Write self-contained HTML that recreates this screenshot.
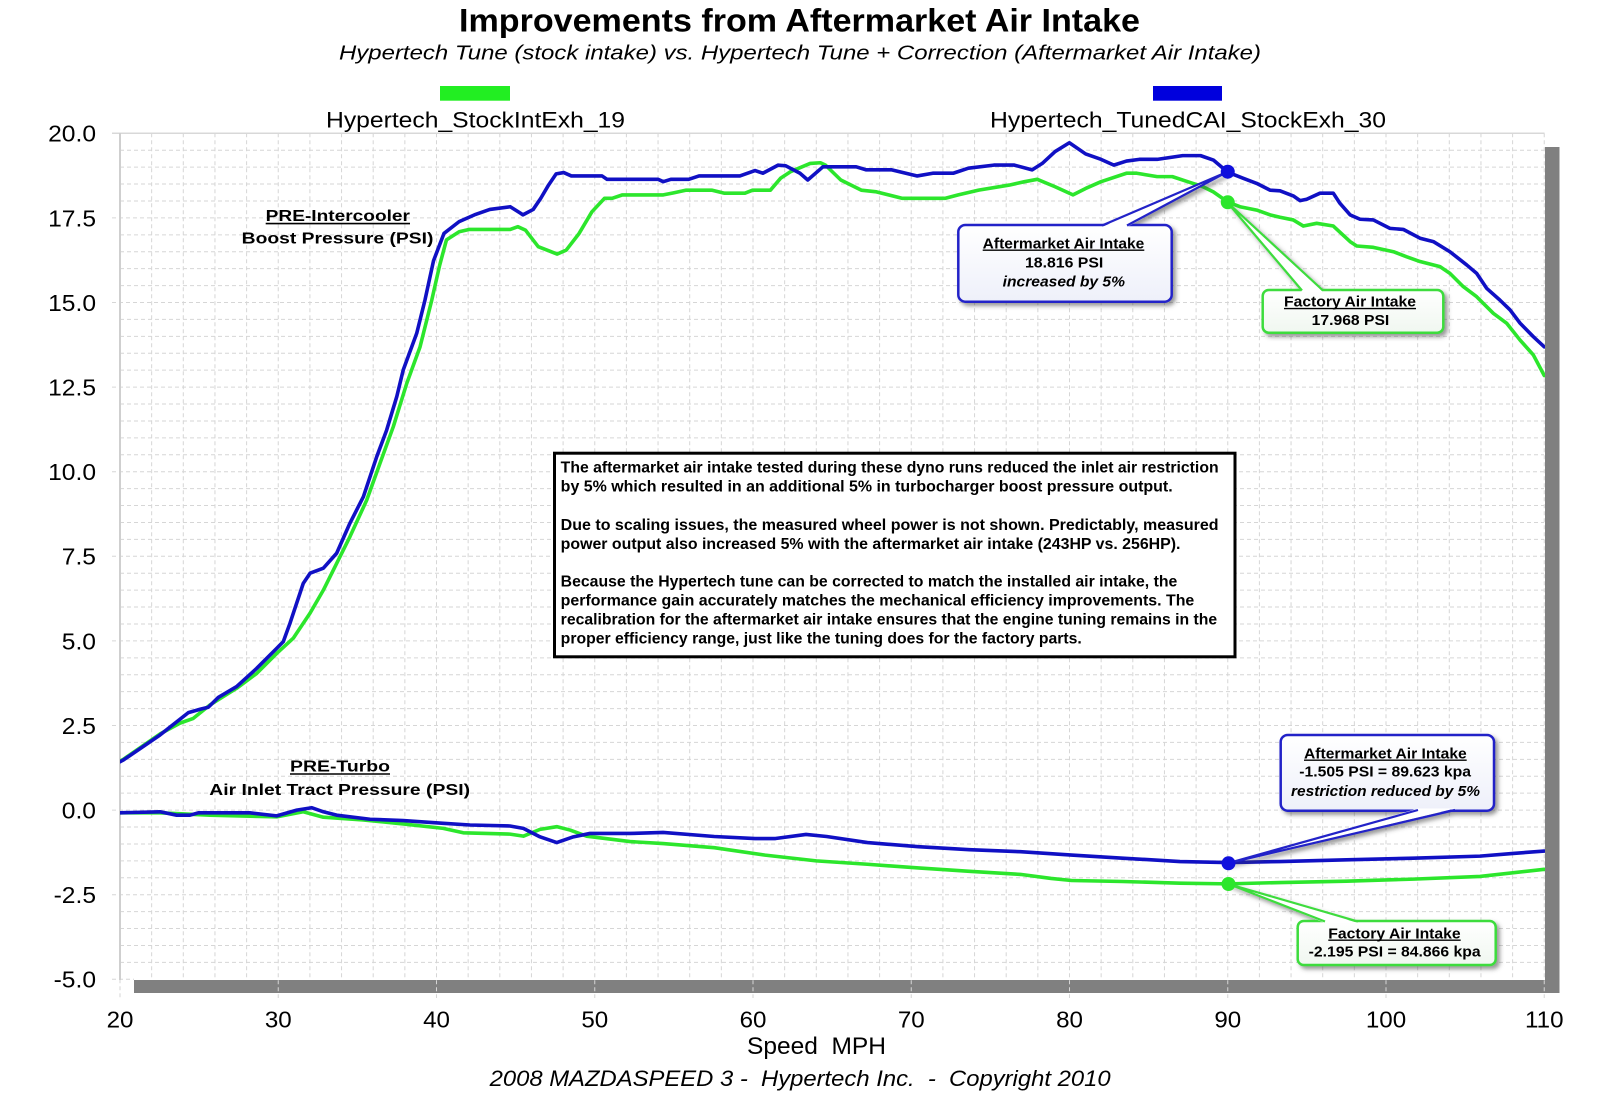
<!DOCTYPE html>
<html>
<head>
<meta charset="utf-8">
<style>
html,body{margin:0;padding:0;background:#fff;}
svg{display:block;}
text{font-family:"Liberation Sans",Arial,sans-serif;}
.pre{white-space:pre;}
</style>
</head>
<body>
<svg width="1600" height="1120" viewBox="0 0 1600 1120" xmlns="http://www.w3.org/2000/svg" xml:space="preserve">
<defs>
  <filter id="sh" x="-10%" y="-10%" width="130%" height="140%">
    <feDropShadow dx="3" dy="3" stdDeviation="2" flood-color="#444" flood-opacity="0.55"/>
  </filter>
  <linearGradient id="gb" x1="0" y1="0" x2="0" y2="1">
    <stop offset="0" stop-color="#ffffff"/>
    <stop offset="1" stop-color="#eef0fa"/>
  </linearGradient>
  <linearGradient id="gg" x1="0" y1="0" x2="0" y2="1">
    <stop offset="0" stop-color="#ffffff"/>
    <stop offset="1" stop-color="#f0f7f0"/>
  </linearGradient>
  <clipPath id="plotclip"><rect x="120" y="133" width="1425" height="847"/></clipPath>
</defs>

<rect x="0" y="0" width="1600" height="1120" fill="#fff"/>

<!-- Titles -->
<text x="459" y="31.7" font-size="32.5" font-weight="bold" textLength="681" lengthAdjust="spacingAndGlyphs">Improvements from Aftermarket Air Intake</text>
<text x="339" y="59.3" font-size="20" font-style="italic" textLength="922" lengthAdjust="spacingAndGlyphs">Hypertech Tune (stock intake) vs. Hypertech Tune + Correction (Aftermarket Air Intake)</text>

<!-- Legend -->
<rect x="440" y="86" width="70" height="14.7" fill="#22ee22"/>
<rect x="1153" y="86" width="69" height="14.7" fill="#0000dd"/>
<text x="326" y="127.7" font-size="22" textLength="299" lengthAdjust="spacingAndGlyphs">Hypertech_StockIntExh_19</text>
<text x="990" y="127.7" font-size="22" textLength="396" lengthAdjust="spacingAndGlyphs">Hypertech_TunedCAI_StockExh_30</text>

<!-- Shadows -->
<rect x="1545" y="147" width="14.5" height="846" fill="#808080"/>
<rect x="134" y="980" width="1425.5" height="13" fill="#808080"/>

<!-- Grid minor/major dashed -->
<g stroke="#d6d6d6" stroke-width="1" stroke-dasharray="4 3" fill="none">
<path d="M151.65 133.3V979.3M183.3 133.3V979.3M214.95 133.3V979.3M246.6 133.3V979.3M309.9 133.3V979.3M341.55 133.3V979.3M373.2 133.3V979.3M404.85 133.3V979.3M468.15 133.3V979.3M499.8 133.3V979.3M531.45 133.3V979.3M563.1 133.3V979.3M626.4 133.3V979.3M658.05 133.3V979.3M689.7 133.3V979.3M721.35 133.3V979.3M784.65 133.3V979.3M816.3 133.3V979.3M847.95 133.3V979.3M879.6 133.3V979.3M942.9 133.3V979.3M974.55 133.3V979.3M1006.2 133.3V979.3M1037.85 133.3V979.3M1101.15 133.3V979.3M1132.8 133.3V979.3M1164.45 133.3V979.3M1196.1 133.3V979.3M1259.4 133.3V979.3M1291.05 133.3V979.3M1322.7 133.3V979.3M1354.35 133.3V979.3M1417.65 133.3V979.3M1449.3 133.3V979.3M1480.95 133.3V979.3M1512.6 133.3V979.3"/>
<path d="M278.25 133.3V998M436.5 133.3V998M594.75 133.3V998M753 133.3V998M911.25 133.3V998M1069.5 133.3V998M1227.75 133.3V998M1386 133.3V998M1544.25 133.3V998M120 979.3V998"/>
<path d="M120 150.22H1544M120 167.14H1544M120 184.06H1544M120 200.98H1544M120 234.82H1544M120 251.74H1544M120 268.66H1544M120 285.58H1544M120 319.42H1544M120 336.34H1544M120 353.26H1544M120 370.18H1544M120 404.02H1544M120 420.94H1544M120 437.86H1544M120 454.78H1544M120 488.62H1544M120 505.54H1544M120 522.46H1544M120 539.38H1544M120 573.22H1544M120 590.14H1544M120 607.06H1544M120 623.98H1544M120 657.82H1544M120 674.74H1544M120 691.66H1544M120 708.58H1544M120 742.42H1544M120 759.34H1544M120 776.26H1544M120 793.18H1544M120 827.02H1544M120 843.94H1544M120 860.86H1544M120 877.78H1544M120 911.62H1544M120 928.54H1544M120 945.46H1544M120 962.38H1544"/>
<path d="M112 217.9H1544M112 302.5H1544M112 387.1H1544M112 471.7H1544M112 556.3H1544M112 640.9H1544M112 725.5H1544M112 810.1H1544M112 894.7H1544M112 979.3H134"/>
</g>
<line x1="112" y1="133.3" x2="1544.5" y2="133.3" stroke="#d8d8d8" stroke-width="1.5"/>
<line x1="120" y1="133" x2="120" y2="980" stroke="#cfcfcf" stroke-width="2"/>

<!-- Y tick labels -->
<g font-size="23" text-anchor="end">
<text transform="translate(96,141.7) scale(1.07,1)">20.0</text>
<text transform="translate(96,226.3) scale(1.07,1)">17.5</text>
<text transform="translate(96,310.9) scale(1.07,1)">15.0</text>
<text transform="translate(96,395.5) scale(1.07,1)">12.5</text>
<text transform="translate(96,480.1) scale(1.07,1)">10.0</text>
<text transform="translate(96,564.7) scale(1.07,1)">7.5</text>
<text transform="translate(96,649.3) scale(1.07,1)">5.0</text>
<text transform="translate(96,733.9) scale(1.07,1)">2.5</text>
<text transform="translate(96,818.5) scale(1.07,1)">0.0</text>
<text transform="translate(96,903.1) scale(1.07,1)">-2.5</text>
<text transform="translate(96,987.7) scale(1.07,1)">-5.0</text>
</g>

<!-- X tick labels -->
<g font-size="23" text-anchor="middle">
<text transform="translate(120,1027.3) scale(1.05,1)">20</text>
<text transform="translate(278.25,1027.3) scale(1.05,1)">30</text>
<text transform="translate(436.5,1027.3) scale(1.05,1)">40</text>
<text transform="translate(594.75,1027.3) scale(1.05,1)">50</text>
<text transform="translate(753,1027.3) scale(1.05,1)">60</text>
<text transform="translate(911.25,1027.3) scale(1.05,1)">70</text>
<text transform="translate(1069.5,1027.3) scale(1.05,1)">80</text>
<text transform="translate(1227.75,1027.3) scale(1.05,1)">90</text>
<text transform="translate(1386,1027.3) scale(1.05,1)">100</text>
<text transform="translate(1544.25,1027.3) scale(1.05,1)">110</text>
</g>

<text x="747" y="1054" font-size="24.5" class="pre" textLength="139" lengthAdjust="spacingAndGlyphs">Speed  MPH</text>
<text x="489.6" y="1086" font-size="22" font-style="italic" class="pre" textLength="621" lengthAdjust="spacingAndGlyphs">2008 MAZDASPEED 3 -  Hypertech Inc.  -  Copyright 2010</text>

<!-- Text box -->
<rect x="554.5" y="453.2" width="680.5" height="203.6" fill="#fff" stroke="#000" stroke-width="3"/>
<g font-size="15.5" font-weight="bold" class="pre">
<text x="560.7" y="472.3" textLength="657.9" lengthAdjust="spacingAndGlyphs">The aftermarket air intake tested during these dyno runs reduced the inlet air restriction</text>
<text x="560.7" y="491.5" textLength="612" lengthAdjust="spacingAndGlyphs">by 5% which resulted in an additional 5% in turbocharger boost pressure output.</text>
<text x="560.7" y="530" textLength="657.9" lengthAdjust="spacingAndGlyphs">Due to scaling issues, the measured wheel power is not shown.  Predictably, measured</text>
<text x="560.7" y="549" textLength="619.8" lengthAdjust="spacingAndGlyphs">power output also increased 5% with the aftermarket air intake (243HP vs. 256HP).</text>
<text x="560.7" y="586.7" textLength="616.6" lengthAdjust="spacingAndGlyphs">Because the Hypertech tune can be corrected to match the installed air intake, the</text>
<text x="560.7" y="605.7" textLength="633.6" lengthAdjust="spacingAndGlyphs">performance gain accurately matches the mechanical efficiency improvements.  The</text>
<text x="560.7" y="624.5" textLength="656.5" lengthAdjust="spacingAndGlyphs">recalibration for the aftermarket air intake ensures that the engine tuning remains in the</text>
<text x="560.7" y="643.5" textLength="521.1" lengthAdjust="spacingAndGlyphs">proper efficiency range, just like the tuning does for the factory parts.</text>
</g>

<!-- Curve labels -->
<g font-size="16" font-weight="bold">
<text x="265.7" y="221" textLength="144.3" lengthAdjust="spacingAndGlyphs">PRE-Intercooler</text>
<text x="241.7" y="243.3" textLength="191.7" lengthAdjust="spacingAndGlyphs">Boost Pressure (PSI)</text>
<text x="290" y="771.5" textLength="100" lengthAdjust="spacingAndGlyphs">PRE-Turbo</text>
<text x="209.3" y="795" textLength="260.7" lengthAdjust="spacingAndGlyphs">Air Inlet Tract Pressure (PSI)</text>
</g>
<line x1="265.7" y1="223.6" x2="410" y2="223.6" stroke="#000" stroke-width="1.6"/>
<line x1="290" y1="774" x2="390" y2="774" stroke="#000" stroke-width="1.6"/>

<!-- Curves -->
<g clip-path="url(#plotclip)">
<g transform="matrix(15.825 0 0 -33.84 -196.5 810.1)" fill="none" stroke-linejoin="round" stroke-linecap="round">
<polyline vector-effect="non-scaling-stroke" stroke="#2ce62c" stroke-width="3.6" points="20.0,1.45 20.21,1.50 22.53,2.25 23.79,2.57 24.63,2.71 25.69,3.11 27.37,3.60 28.64,4.04 29.90,4.63 30.95,5.08 32.01,5.82 32.85,6.50 33.69,7.29 34.53,8.08 35.59,9.16 36.43,10.25 37.27,11.33 38.12,12.61 38.96,13.69 39.70,15.07 40.20,16.10 40.63,16.85 41.43,17.09 42.08,17.16 44.66,17.16 45.14,17.24 45.62,17.14 46.43,16.65 47.08,16.53 47.62,16.43 48.20,16.55 49.01,17.04 49.82,17.68 50.62,18.08 51.10,18.08 51.75,18.18 54.33,18.18 54.98,18.24 55.78,18.32 57.39,18.32 58.20,18.23 59.49,18.23 59.97,18.32 61.10,18.32 61.74,18.67 62.39,18.87 63.61,19.11 64.26,19.13 64.58,19.06 65.55,18.62 66.84,18.32 67.80,18.27 69.41,18.08 72.16,18.08 72.97,18.18 74.26,18.32 76.19,18.47 77.16,18.57 77.96,18.64 79.09,18.42 80.22,18.18 81.02,18.37 81.99,18.57 83.60,18.82 84.25,18.82 85.54,18.72 86.50,18.72 87.47,18.57 88.44,18.42 89.09,18.27 90.00,17.97 90.77,17.83 91.83,17.73 92.67,17.59 93.30,17.52 94.14,17.44 94.78,17.26 95.62,17.34 96.67,17.26 97.73,16.80 98.15,16.67 99.20,16.63 100.47,16.50 101.31,16.35 102.15,16.21 103.41,16.06 104.04,15.86 104.88,15.47 105.73,15.17 106.78,14.68 107.62,14.39 108.47,13.89 109.31,13.45 110.00,12.84"/>
<polyline vector-effect="non-scaling-stroke" stroke="#1010c4" stroke-width="3.6" points="20.0,1.43 20.21,1.48 22.53,2.22 24.32,2.88 25.06,2.98 25.58,3.04 26.21,3.33 27.37,3.65 28.64,4.19 29.90,4.78 30.32,4.98 30.74,5.52 31.58,6.70 32.01,7.00 32.85,7.15 33.69,7.59 34.53,8.48 35.38,9.26 36.22,10.44 36.85,11.23 37.49,12.22 37.90,13.01 38.75,14.09 39.27,15.07 39.81,16.23 40.47,17.04 41.43,17.39 42.40,17.59 43.37,17.75 44.66,17.83 45.30,17.64 45.46,17.59 46.11,17.75 46.59,18.08 47.08,18.47 47.56,18.80 48.04,18.84 48.52,18.74 50.46,18.74 50.78,18.64 54.01,18.64 54.33,18.57 54.81,18.64 55.94,18.64 56.59,18.74 59.17,18.74 60.13,18.90 60.62,18.82 61.59,19.06 62.07,19.04 62.97,18.82 63.46,18.62 64.42,19.01 66.52,19.01 67.16,18.92 68.77,18.92 70.38,18.74 71.36,18.82 72.65,18.82 73.61,18.97 75.22,19.06 76.51,19.06 77.64,18.92 78.28,19.11 79.09,19.46 79.99,19.72 81.02,19.39 81.99,19.23 82.80,19.06 83.60,19.18 84.41,19.23 85.54,19.23 87.15,19.34 88.28,19.34 89.09,19.21 90.00,18.85 90.98,18.67 91.83,18.52 92.67,18.32 93.30,18.30 94.14,18.15 94.57,18.01 94.99,18.05 95.83,18.23 96.67,18.23 97.09,17.93 97.73,17.59 98.36,17.46 99.20,17.44 100.25,17.19 101.09,17.16 102.15,16.90 102.99,16.80 104.04,16.50 105.10,16.11 105.73,15.86 106.36,15.42 107.20,15.07 107.84,14.78 108.47,14.39 109.31,13.99 110.00,13.69"/>
<polyline vector-effect="non-scaling-stroke" stroke="#2ce62c" stroke-width="3.6" points="20.0,-0.08 22.53,-0.08 25.69,-0.15 29.90,-0.20 31.58,-0.05 32.85,-0.21 35.38,-0.29 37.90,-0.41 40.43,-0.54 41.69,-0.67 44.64,-0.71 45.49,-0.77 46.54,-0.57 47.60,-0.49 48.44,-0.59 49.49,-0.77 52.23,-0.93 54.32,-0.99 57.55,-1.11 60.77,-1.33 64.0,-1.50 67.23,-1.60 70.45,-1.71 73.68,-1.81 76.9,-1.90 78.84,-2.02 80.13,-2.08 83.35,-2.11 86.98,-2.16 90.04,-2.18 93.30,-2.14 97.51,-2.10 101.73,-2.04 105.94,-1.96 110,-1.75"/>
<polyline vector-effect="non-scaling-stroke" stroke="#1010c4" stroke-width="3.6" points="20.0,-0.08 22.53,-0.05 23.58,-0.15 24.42,-0.15 24.95,-0.08 28.21,-0.08 29.90,-0.17 31.17,0.00 32.11,0.07 32.85,-0.05 33.69,-0.15 35.80,-0.27 37.90,-0.31 40.43,-0.39 42.12,-0.44 44.64,-0.47 45.49,-0.54 46.54,-0.79 47.60,-0.96 48.65,-0.79 49.70,-0.69 52.23,-0.69 54.32,-0.66 57.55,-0.78 60.13,-0.84 61.42,-0.84 63.35,-0.72 64.65,-0.78 67.23,-0.96 70.45,-1.08 73.68,-1.17 76.90,-1.23 80.13,-1.33 83.35,-1.42 86.98,-1.52 90.04,-1.55 93.30,-1.52 97.51,-1.47 101.73,-1.42 105.94,-1.36 108.04,-1.28 110,-1.21"/>
</g>
</g>

<!-- Callouts -->
<!-- Upper blue -->
<g filter="url(#sh)">
  <rect x="958.3" y="225" width="213.4" height="76.7" rx="7" fill="url(#gb)" stroke="#2222c8" stroke-width="2.5"/>
  <polygon points="1102,227 1227,172 1127,227" fill="#fff"/>
  <polyline points="1102,225.5 1227,172 1127,225.5" fill="none" stroke="#2222c8" stroke-width="2.2" stroke-linejoin="round"/>
</g>
<g font-size="15" font-weight="bold">
  <text x="982.7" y="248.3" textLength="161.6" lengthAdjust="spacingAndGlyphs">Aftermarket Air Intake</text>
  <text x="1025" y="267.3" textLength="78.3" lengthAdjust="spacingAndGlyphs">18.816 PSI</text>
  <text x="1002.7" y="286.7" font-style="italic" textLength="122.3" lengthAdjust="spacingAndGlyphs">increased by 5%</text>
</g>
<line x1="982.7" y1="250.2" x2="1144.3" y2="250.2" stroke="#000" stroke-width="1.4"/>

<!-- Upper green -->
<g filter="url(#sh)">
  <rect x="1262.7" y="290" width="180.6" height="42.7" rx="6" fill="url(#gg)" stroke="#3ddc3d" stroke-width="2.5"/>
  <polygon points="1302,292 1227,202 1323,292" fill="#fff"/>
  <polyline points="1302,290.5 1227,202 1323,290.5" fill="none" stroke="#3ddc3d" stroke-width="2.2" stroke-linejoin="round"/>
</g>
<g font-size="15" font-weight="bold">
  <text x="1284" y="306.7" textLength="132" lengthAdjust="spacingAndGlyphs">Factory Air Intake</text>
  <text x="1311.7" y="325" textLength="77.6" lengthAdjust="spacingAndGlyphs">17.968 PSI</text>
</g>
<line x1="1284" y1="308.6" x2="1416" y2="308.6" stroke="#000" stroke-width="1.4"/>

<!-- Lower blue -->
<g filter="url(#sh)">
  <rect x="1280.7" y="735" width="213.3" height="75.7" rx="7" fill="url(#gb)" stroke="#2222c8" stroke-width="2.5"/>
  <polygon points="1418,808.5 1228.5,863 1455,808.5" fill="#fff"/>
  <polyline points="1418,810 1228.5,863 1455,810" fill="none" stroke="#2222c8" stroke-width="2.2" stroke-linejoin="round"/>
</g>
<g font-size="15" font-weight="bold">
  <text x="1304" y="758.3" textLength="162.7" lengthAdjust="spacingAndGlyphs">Aftermarket Air Intake</text>
  <text x="1299.3" y="776.7" textLength="171.7" lengthAdjust="spacingAndGlyphs">-1.505 PSI = 89.623 kpa</text>
  <text x="1291" y="796" font-style="italic" textLength="189" lengthAdjust="spacingAndGlyphs">restriction reduced by 5%</text>
</g>
<line x1="1304" y1="760.2" x2="1466.7" y2="760.2" stroke="#000" stroke-width="1.4"/>

<!-- Lower green -->
<g filter="url(#sh)">
  <rect x="1297.7" y="921" width="198" height="44" rx="6" fill="url(#gg)" stroke="#3ddc3d" stroke-width="2.5"/>
  <polygon points="1325,923 1228.5,884 1358,923" fill="#fff"/>
  <polyline points="1325,921.5 1228.5,884 1358,921.5" fill="none" stroke="#3ddc3d" stroke-width="2.2" stroke-linejoin="round"/>
</g>
<g font-size="15" font-weight="bold">
  <text x="1328.3" y="938.3" textLength="132.4" lengthAdjust="spacingAndGlyphs">Factory Air Intake</text>
  <text x="1308.7" y="956.7" textLength="172" lengthAdjust="spacingAndGlyphs">-2.195 PSI = 84.866 kpa</text>
</g>
<line x1="1328.3" y1="940.2" x2="1460.7" y2="940.2" stroke="#000" stroke-width="1.4"/>

<!-- Markers -->
<circle cx="1227.75" cy="171.7" r="7" fill="#1010dd"/>
<circle cx="1227.75" cy="202.3" r="7" fill="#2ce62c"/>
<circle cx="1228.5" cy="863.3" r="7" fill="#1010dd"/>
<circle cx="1228.5" cy="884" r="7" fill="#2ce62c"/>
</svg>
</body>
</html>
